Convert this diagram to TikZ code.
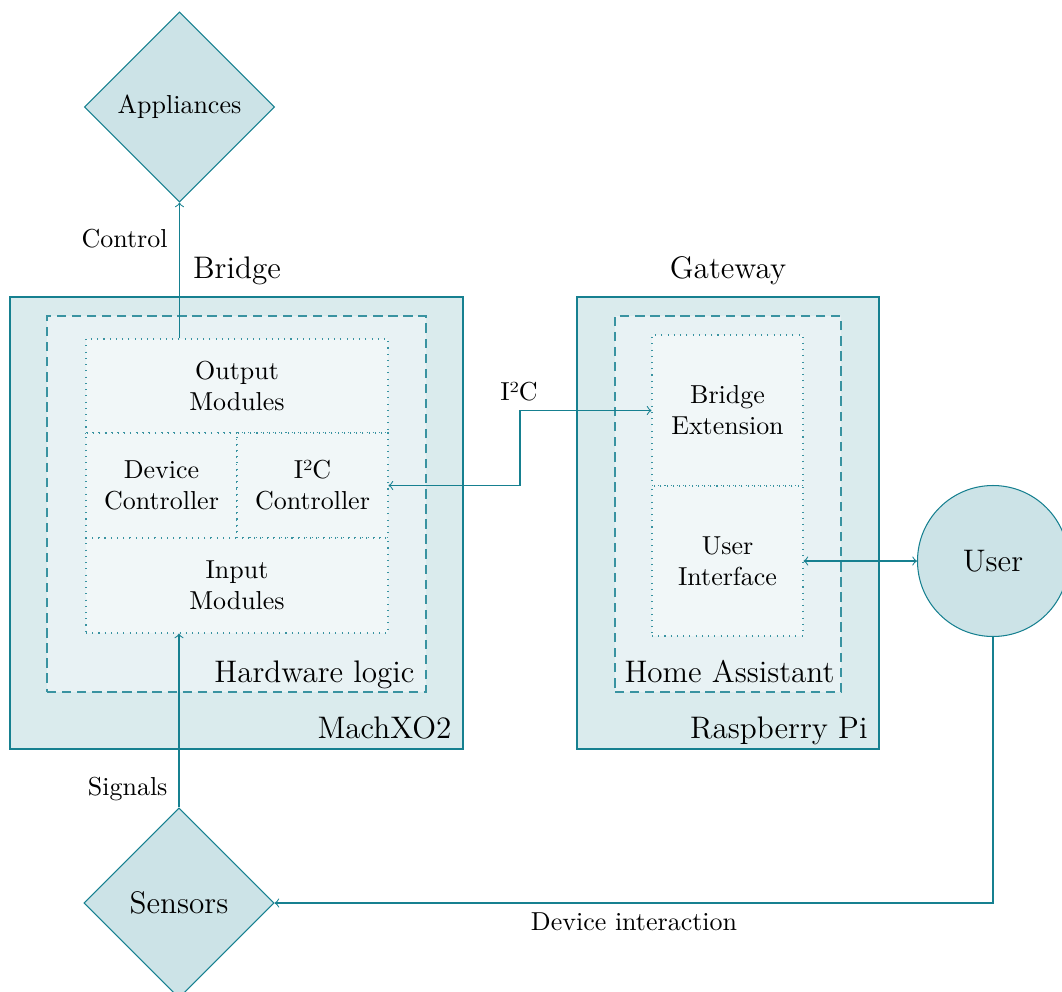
\documentclass[tikz,border=0pt]{standalone}
\usepackage{fontspec}
\usetikzlibrary{shapes.geometric,calc}

\definecolor{hub}{RGB}{22,128,144}
\newcommand\pxu{0.385pt}

\tikzset{
  every node/.style={inner sep=0pt},
  terminal/.style={shape=diamond, aspect=1, draw=hub, fill=hub!22,
    minimum width=190*\pxu, minimum height=190*\pxu},
  devicebox/.style={shape=rectangle, draw=hub, fill=hub!16},
  logicbox/.style={shape=rectangle, draw=hub!85, fill=hub!10,
    dash pattern=on 3.6pt off 2.2pt},
  cellbox/.style={shape=rectangle, draw=hub!85, fill=hub!6, dotted,
    align=center},
  person/.style={shape=circle, draw=hub, fill=hub!22,
    minimum size=151*\pxu, font=\large},
  tag/.style={font=\large},
  link/.style={draw=hub, thin},
}

\begin{document}
\begin{tikzpicture}[x=\pxu, y=-\pxu]
\useasboundingbox (0,0) rectangle (1062,992);

% end devices
\node[terminal] (app) at (179.5,107) {Appliances};
\node[terminal, font=\large] (sens) at (179,903) {Sensors};

% FPGA bridge
\node[devicebox, minimum width=453*\pxu, minimum height=452*\pxu] (fpga) at (236.5,523) {};
\node[logicbox, minimum width=379*\pxu, minimum height=376*\pxu] (hw) at (236.5,504) {};
\node[cellbox, minimum width=302*\pxu, minimum height=94*\pxu] (out) at (237,386) {Output\\Modules};
\node[cellbox, minimum width=151*\pxu, minimum height=105*\pxu] (dev) at (161.5,485.5) {Device\\Controller};
\node[cellbox, minimum width=151*\pxu, minimum height=105*\pxu] (i2c) at (312.5,485.5) {I²C\\Controller};
\node[cellbox, minimum width=302*\pxu, minimum height=95*\pxu] (inp) at (237,585.5) {Input\\Modules};
\node[tag, anchor=base] (bridgelbl) at (237,278) {Bridge};
\node[tag, anchor=base east] (fpgalbl) at (452,738) {MachXO2};
\node[tag, anchor=base east] (hwlbl) at (415,682) {Hardware logic};

% gateway
\node[devicebox, minimum width=302*\pxu, minimum height=452*\pxu] (rpi) at (728,523) {};
\node[logicbox, minimum width=226*\pxu, minimum height=376*\pxu] (ha) at (728,504) {};
\node[cellbox, minimum width=151*\pxu, minimum height=151*\pxu] (bext) at (727.5,410.5) {Bridge\\Extension};
\node[cellbox, minimum width=151*\pxu, minimum height=150*\pxu] (ui) at (727.5,561) {User\\Interface};
\node[tag, anchor=base] (gwlbl) at (728,278) {Gateway};
\node[tag, anchor=base east] (rpilbl) at (868,738) {Raspberry Pi};
\node[tag, anchor=base east] (halbl) at (835,682) {Home Assistant};

% user
\node[person] (user) at (993,561) {User};

% connections
\draw[link, ->] (out.north -| app.south) -- (app.south);
\node[anchor=base east] (ctrl) at (168,247) {Control};

\draw[link, ->] (sens.north) -- (sens.north |- inp.south);
\node[anchor=base east] (sig) at (168,795) {Signals};

\coordinate (busmid) at ($(i2c.east)!.5!(bext.west)$);
\draw[link, <->] (i2c.east) -| (busmid) |- (bext.west);
\node[anchor=base] (buslbl) at (519,400) {I²C};

\draw[link, <->] (ui.east) -- (user.west);

\draw[link, ->] (user.south) |- (sens.east);
\node[anchor=base] (interact) at (634,930) {Device interaction};
\end{tikzpicture}
\end{document}
